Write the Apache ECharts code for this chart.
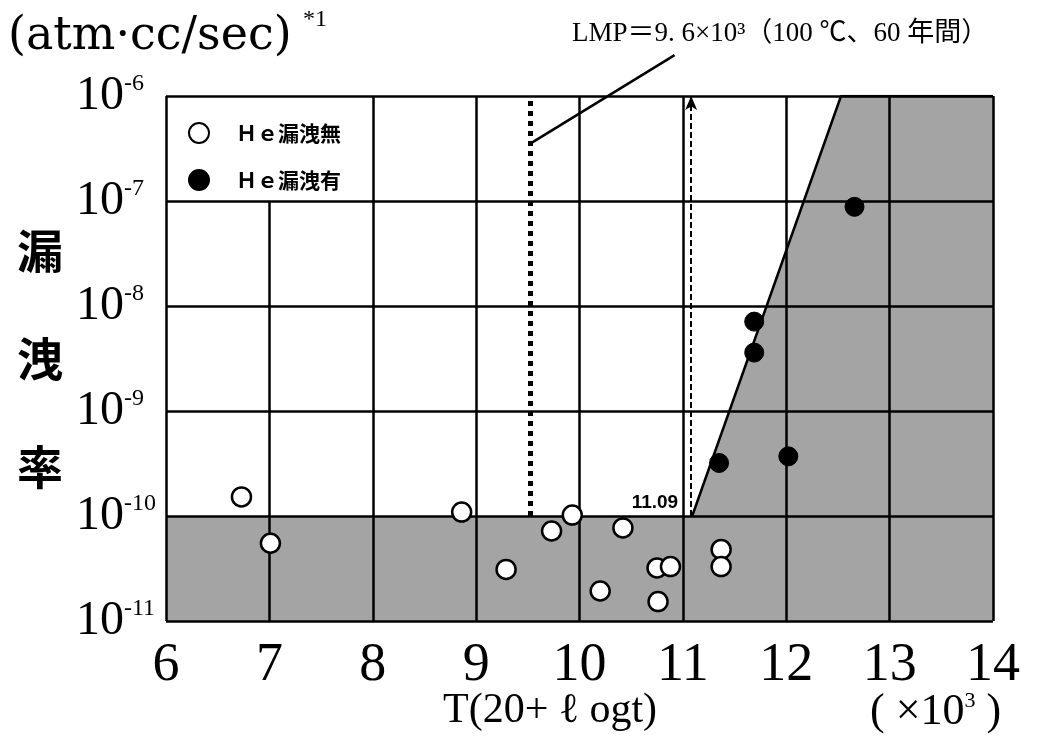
<!DOCTYPE html>
<html>
<head>
<meta charset="utf-8">
<script src="https://cdn.jsdelivr.net/npm/echarts@6/dist/echarts.min.js"></script>
<style>html,body{margin:0;padding:0;background:#fff;}#c{width:1043px;height:742px;}</style>
</head>
<body>
<div id="c"></div>
<script>
// ---- data ----
var xTickLabels = ['6','7','8','9','10','11','12','13','14'];
var yTickExponents = ['-11','-10','-9','-8','-7','-6'];
var noLeakName = 'Ｈｅ漏洩無';
var leakName = 'Ｈｅ漏洩有';
// [T(20+log t) x10^3, leak rate atm·cc/sec]
var noLeakPoints = [
  [6.73, 1.52e-10], [7.01, 5.5e-11], [8.86, 1.09e-10], [9.29, 3.1e-11],
  [9.73, 7.2e-11], [9.93, 1.02e-10], [10.20, 1.93e-11], [10.42, 7.7e-11],
  [10.75, 3.2e-11], [10.76, 1.53e-11], [10.88, 3.3e-11],
  [11.37, 4.8e-11], [11.37, 3.3e-11]
];
var leakPoints = [
  [11.35, 3.2e-10], [11.69, 7.1e-9], [11.69, 3.6e-9], [12.02, 3.7e-10], [12.66, 8.8e-8]
];
var boundaryLine = [[11.09, 1e-10], [12.53, 1e-6], [14, 1e-6]];
var criterionRate = 1e-10;
var lmpValue = 9.52;      // position of LMP line as drawn
var arrowX = 11.08;
var leaderEnd = [[9.52, 3.5e-7], [10.92, 2.45e-6]];
var verticalGrid = [7, 8, 9, 10, 11, 12, 13];
var horizontalGrid = [1e-10, 1e-9, 1e-8, 1e-7];

var SHADE = '#a4a4a4';
var serif = '"Liberation Serif", "DejaVu Serif", serif';
var cjk = '"Noto Sans CJK JP", sans-serif';

var gridLineData = [];
verticalGrid.forEach(function (x) {
  var top = (x === 7) ? 1e-7 : 1e-6;
  gridLineData.push([{coord: [x, 1e-11]}, {coord: [x, top]}]);
});
horizontalGrid.forEach(function (y) {
  gridLineData.push([{coord: [6, y]}, {coord: [14, y]}]);
});
var frameData = [
  [{coord: [6, 1e-11]}, {coord: [6, 1e-6]}],
  [{coord: [14, 1e-11]}, {coord: [14, 1e-6]}],
  [{coord: [6, 1e-11]}, {coord: [14, 1e-11]}],
  [{coord: [6, 1e-6]}, {coord: [14, 1e-6]}]
];

var chart = echarts.init(document.getElementById('c'), null, {renderer: 'canvas'});
var option = {
  backgroundColor: '#fff',
  animation: false,
  grid: {left: 166, right: 50, top: 96, bottom: 121, containLabel: false, outerBoundsMode: 'none'},
  xAxis: {
    type: 'value', min: 6, max: 14, interval: 1,
    axisLine: {show: false}, axisTick: {show: false}, splitLine: {show: false},
    axisLabel: {
      margin: 18, color: '#000', fontSize: 54, fontFamily: serif,
      formatter: function (v) { return xTickLabels[Math.round(v) - 6]; }
    }
  },
  yAxis: {
    type: 'log', logBase: 10, min: 1e-11, max: 1e-6,
    axisLine: {show: false}, axisTick: {show: false}, splitLine: {show: false},
    name: '漏\n洩\n率', nameLocation: 'middle', nameGap: 103, nameRotate: 0,
    nameTextStyle: {fontSize: 46, fontWeight: 'bold', fontFamily: cjk, color: '#000', lineHeight: 108},
    axisLabel: {
      align: 'left', margin: 90, color: '#000',
      formatter: function (v) {
        var e = Math.round(Math.log(v) / Math.LN10);
        var idx = e + 11;
        return '{b|10}{s|' + yTickExponents[idx] + '}';
      },
      rich: {
        b: {fontSize: 48, fontFamily: serif, color: '#000', lineHeight: 48},
        s: {fontSize: 24, fontFamily: serif, color: '#000', verticalAlign: 'top', lineHeight: 22}
      }
    }
  },
  legend: {
    orient: 'vertical', left: 183, top: 117,
    itemWidth: 20, itemHeight: 20, itemGap: 25,
    data: [{name: noLeakName, icon: 'circle'}, {name: leakName, icon: 'circle'}],
    textStyle: {fontSize: 21, fontWeight: 'bold', fontFamily: cjk, color: '#000', padding: [0, 0, 0, 22]}
  },
  series: [
    {
      name: 'shade', type: 'line', z: 1, silent: true,
      data: boundaryLine, symbol: 'none',
      lineStyle: {color: '#000', width: 2.5},
      areaStyle: {color: SHADE, opacity: 1, origin: 'start'},
      markArea: {
        silent: true,
        itemStyle: {color: SHADE},
        data: [[{coord: [6, 1e-11]}, {coord: [14, criterionRate]}]]
      }
    },
    {
      name: 'grid', type: 'scatter', z: 3, silent: true, data: [],
      markLine: {
        silent: true, symbol: 'none', animation: false,
        label: {show: false},
        lineStyle: {color: '#000', width: 2.5, type: 'solid'},
        data: gridLineData.concat(frameData)
      }
    },
    {
      name: 'lmp', type: 'scatter', z: 4, silent: true, data: [],
      markLine: {
        silent: true, symbol: 'none', label: {show: false},
        lineStyle: {color: '#000', width: 5, type: [5, 5], cap: 'butt'},
        data: [[{coord: [lmpValue, criterionRate]}, {coord: [lmpValue, 1e-6]}]]
      }
    },
    {
      name: 'arrow', type: 'scatter', z: 4, silent: true, data: [],
      markLine: {
        silent: true, symbol: ['none', 'arrow'], symbolSize: [9, 14], label: {show: false},
        lineStyle: {color: '#000', width: 2, type: [6, 3]},
        data: [[{coord: [arrowX, criterionRate]}, {coord: [arrowX, 1e-6]}]]
      }
    },
    {
      name: 'leader', type: 'line', z: 4, silent: true, clip: false,
      data: leaderEnd, symbol: 'none',
      lineStyle: {color: '#000', width: 2.5}
    },
    {
      name: 'annot', type: 'scatter', z: 4, silent: true,
      data: [[11.09, 1e-10]], symbolSize: 0,
      itemStyle: {opacity: 1},
      label: {
        show: true, formatter: '11.09', position: 'left', distance: 14, offset: [0, -13],
        fontSize: 19, fontWeight: 'bold', color: '#000', opacity: 1,
        fontFamily: '"Liberation Sans Narrow", "Liberation Sans", sans-serif'
      }
    },
    {
      name: noLeakName, type: 'scatter', z: 5, data: noLeakPoints,
      symbol: 'circle', symbolSize: 19,
      itemStyle: {color: '#fff', borderColor: '#000', borderWidth: 2.5, opacity: 1}
    },
    {
      name: leakName, type: 'scatter', z: 5, data: leakPoints,
      symbol: 'circle', symbolSize: 19,
      itemStyle: {color: '#000', borderColor: '#000', borderWidth: 1, opacity: 1}
    }
  ],
  graphic: [
    {type: 'text', left: 8, top: 14, style: {text: '(atm·cc/sec)', fontSize: 46, fontFamily: '"DejaVu Serif", serif', fill: '#000'}},
    {type: 'text', left: 303, top: 8, style: {text: '*1', fontSize: 24, fontFamily: serif, fill: '#000'}},
    {type: 'text', left: 572, top: 20, style: {text: 'LMP＝9. 6×10³（100 ℃、60 年間）', fontSize: 27, fontFamily: '"Liberation Serif", "Noto Sans CJK JP", serif', fill: '#000'}},
    {type: 'text', left: 443, top: 690, style: {text: 'T(20+ ℓ ogt)', fontSize: 42, fontFamily: serif, fill: '#000'}},
    {type: 'text', left: 870, top: 690, style: {
      text: '{a|( ×10}{s|3}{a| )}',
      rich: {a: {fontSize: 44, fontFamily: serif, fill: '#000'}, s: {fontSize: 22, fontFamily: serif, verticalAlign: 'top', fill: '#000'}}
    }}
  ]
};
chart.setOption(option);
</script>
</body>
</html>
